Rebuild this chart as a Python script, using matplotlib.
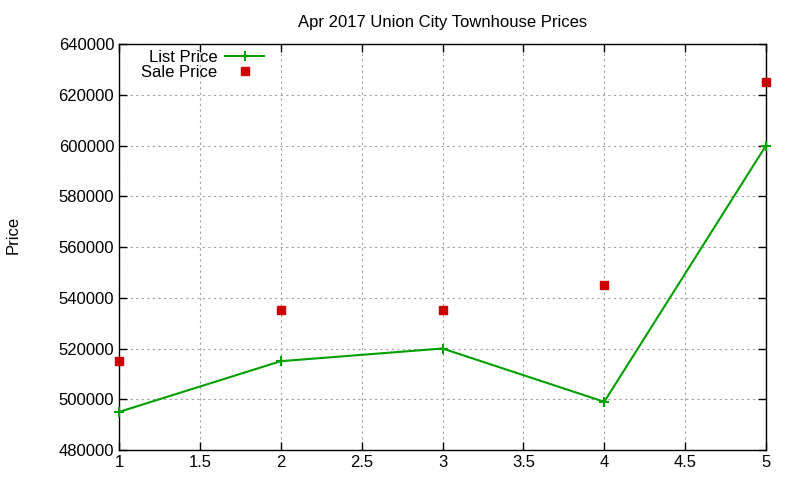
import matplotlib.pyplot as plt

x = [1, 2, 3, 4, 5]
list_price = [495000, 515000, 520000, 499000, 600000]
sale_price = [515000, 535000, 535000, 545000, 625000]

plt.rcParams['font.family'] = ['Liberation Sans', 'DejaVu Sans']
plt.rcParams['font.size'] = 12

fig = plt.figure(figsize=(8, 4.8), dpi=100)
ax = fig.add_axes([0.14875, 0.0625, 0.80875, 0.8458])

ax.plot(x, list_price, color='#00a000', lw=1.5, marker='+', ms=7, mew=1.5,
        label='List Price', clip_on=False, zorder=3)
ax.plot(x, sale_price, ls='none', color='#cc0000', marker='s', ms=6,
        label='Sale Price', clip_on=False, zorder=3)

ax.set_xlim(1, 5)
ax.set_ylim(480000, 640000)
ax.set_xticks([1, 1.5, 2, 2.5, 3, 3.5, 4, 4.5, 5])
ax.set_xticklabels(['1', '1.5', '2', '2.5', '3', '3.5', '4', '4.5', '5'])
ax.set_yticks(range(480000, 640001, 20000))
ax.ticklabel_format(axis='y', style='plain', useOffset=False)

ax.grid(True, color='#a0a0a0', ls=(0, (2, 3)), lw=0.8)
ax.tick_params(direction='in', length=6, top=True, right=True, width=1)
for s in ax.spines.values():
    s.set_linewidth(1)

ax.set_title('Apr 2017 Union City Townhouse Prices', fontsize=12, pad=12)
fig.text(0.016, 0.51, 'Price', rotation=90, va='center', ha='center', fontsize=12)

ax.legend(loc='upper left', bbox_to_anchor=(0.016, 1.015), frameon=False, markerfirst=False,
          handlelength=2.3, borderaxespad=0.3, labelspacing=0.0, handletextpad=0.5)

fig.savefig('out.png', dpi=100)
